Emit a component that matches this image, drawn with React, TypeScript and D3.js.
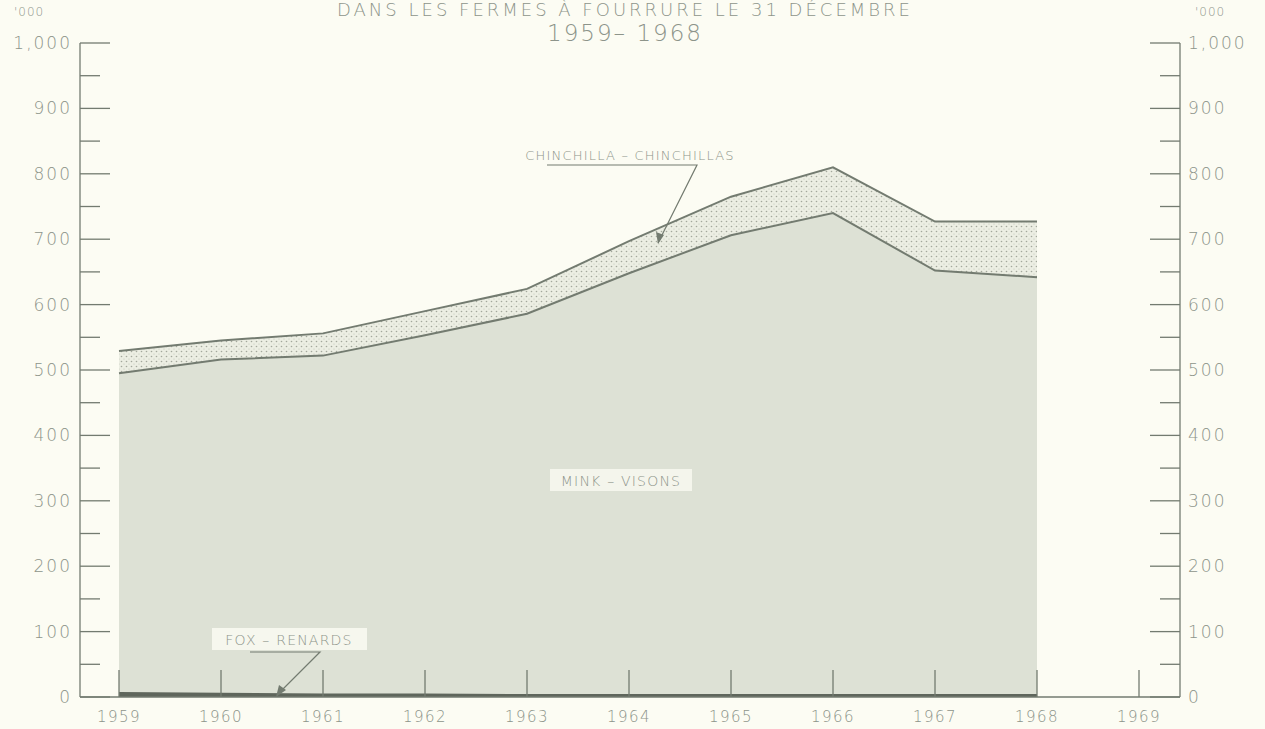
import React, { useEffect, useRef } from 'react'
import * as d3 from 'd3'

const years = [1959, 1960, 1961, 1962, 1963, 1964, 1965, 1966, 1967, 1968]
const fox = [6, 5, 4, 4, 3, 3, 3, 3, 3, 3]
const mink = [489, 511, 518, 549, 583, 645, 703, 737, 649, 639]
const chinchilla = [34, 29, 34, 37, 38, 49, 59, 70, 75, 85]
const yTicks = [0, 100, 200, 300, 400, 500, 600, 700, 800, 900, 1000]
const xTicks = [1959, 1960, 1961, 1962, 1963, 1964, 1965, 1966, 1967, 1968, 1969]

const W = 1265, H = 729
const BG = '#fcfcf3'
const INK = '#737b70'
const TXT = '#8d948a'
const FONT = '"DejaVu Sans", "Noto Sans", sans-serif'

export default function App() {
  const ref = useRef<SVGSVGElement>(null)

  useEffect(() => {
    const svg = d3.select(ref.current)
    svg.selectAll('*').remove()

    const x = d3.scaleLinear().domain([1959, 1969]).range([119, 1139])
    const y = d3.scaleLinear().domain([0, 1000]).range([697, 43])
    const xl = 80, xr = 1180

    const rows = years.map((yr, i) => ({ year: yr, fox: fox[i], mink: mink[i], chinchilla: chinchilla[i] }))
    const stack = d3.stack<any>().keys(['fox', 'mink', 'chinchilla'])(rows)

    const defs = svg.append('defs')
    const pat = defs.append('pattern')
      .attr('id', 'dots').attr('width', 5).attr('height', 5)
      .attr('patternUnits', 'userSpaceOnUse')
    pat.append('rect').attr('width', 5).attr('height', 5).attr('fill', '#eceee3')
    pat.append('circle').attr('cx', 1.5).attr('cy', 1.5).attr('r', 0.8).attr('fill', '#a3a89c')
    pat.append('circle').attr('cx', 4).attr('cy', 4).attr('r', 0.6).attr('fill', '#bfc3b7')

    svg.append('rect').attr('width', W).attr('height', H).attr('fill', BG)

    const area = d3.area<any>()
      .x(d => x(d.data.year))
      .y0(d => y(d[0]))
      .y1(d => y(d[1]))

    const fills = ['#5f665c', '#dde1d5', 'url(#dots)']
    svg.selectAll('path.layer')
      .data(stack)
      .enter()
      .append('path')
      .attr('class', 'layer')
      .attr('d', area)
      .attr('fill', (d, i) => fills[i])

    // boundary lines
    const line = d3.line<any>().x(d => x(d.data.year)).y(d => y(d[1]))
    stack.forEach((s, i) => {
      svg.append('path')
        .attr('d', line(s))
        .attr('fill', 'none')
        .attr('stroke', i === 0 ? '#5f665c' : INK)
        .attr('stroke-width', i === 0 ? 2 : 2)
    })

    // axes frame
    const g = svg.append('g').attr('stroke', INK).attr('stroke-width', 1.3)
    g.append('line').attr('x1', xl).attr('x2', xr).attr('y1', y(0)).attr('y2', y(0))
    g.append('line').attr('x1', xl).attr('x2', xl).attr('y1', y(0)).attr('y2', y(1000))
    g.append('line').attr('x1', xr).attr('x2', xr).attr('y1', y(0)).attr('y2', y(1000))

    const minor = d3.range(50, 1000, 100)
    yTicks.forEach(v => {
      g.append('line').attr('x1', xl).attr('x2', xl + 30).attr('y1', y(v)).attr('y2', y(v))
      g.append('line').attr('x1', xr).attr('x2', xr - 30).attr('y1', y(v)).attr('y2', y(v))
    })
    minor.forEach(v => {
      g.append('line').attr('x1', xl).attr('x2', xl + 20).attr('y1', y(v)).attr('y2', y(v))
      g.append('line').attr('x1', xr).attr('x2', xr - 20).attr('y1', y(v)).attr('y2', y(v))
    })
    xTicks.forEach(v => {
      g.append('line').attr('x1', x(v)).attr('x2', x(v)).attr('y1', y(0)).attr('y2', y(0) - 27)
    })

    // label backgrounds + arrows (under the texts)
    svg.append('rect').attr('x', 550).attr('y', 469).attr('width', 142).attr('height', 22).attr('fill', '#f4f5ec')
    svg.append('rect').attr('x', 212).attr('y', 628).attr('width', 155).attr('height', 22).attr('fill', '#f6f7ee')

    svg.append('path').attr('d', 'M547,165 L697,165 L658,243')
      .attr('fill', 'none').attr('stroke', INK).attr('stroke-width', 1.2)
    svg.append('path').attr('d', 'M658,244 L656,232 L664,235 Z').attr('fill', INK)
    svg.append('path').attr('d', 'M250,652 L320,652 L277,695')
      .attr('fill', 'none').attr('stroke', INK).attr('stroke-width', 1.2)
    svg.append('path').attr('d', 'M276,697 L279,685 L286,690 Z').attr('fill', INK)

    const fmt = (v: number) => v === 1000 ? '1,000' : String(v)
    const t = svg.append('g').attr('fill', TXT).attr('font-family', FONT).attr('font-weight', 200)

    yTicks.forEach(v => {
      t.append('text').attr('x', xl - 8).attr('y', y(v) + 6)
        .attr('text-anchor', 'end').attr('font-size', 17).attr('letter-spacing', 2)
        .text(fmt(v))
      t.append('text').attr('x', xr + 8).attr('y', y(v) + 6)
        .attr('font-size', 17).attr('letter-spacing', 2)
        .text(fmt(v))
    })
    xTicks.forEach(v => {
      t.append('text').attr('x', x(v)).attr('y', 722)
        .attr('text-anchor', 'middle').attr('font-size', 15).attr('letter-spacing', 1.5)
        .text(v)
    })
    t.append('text').attr('x', 14).attr('y', 16).attr('font-size', 12).attr('letter-spacing', 1).text("'000")
    t.append('text').attr('x', 1195).attr('y', 16).attr('font-size', 12).attr('letter-spacing', 1).text("'000")

    // title
    t.append('text').attr('x', 625).attr('y', 16).attr('text-anchor', 'middle')
      .attr('font-size', 18).attr('letter-spacing', 3)
      .text('DANS LES FERMES À FOURRURE LE 31 DÉCEMBRE')
    t.append('text').attr('x', 625).attr('y', 41).attr('text-anchor', 'middle')
      .attr('font-size', 23).attr('letter-spacing', 2)
      .text('1959– 1968')

    // series labels
    t.append('text').attr('x', 630).attr('y', 160).attr('text-anchor', 'middle')
      .attr('font-size', 13).attr('letter-spacing', 1.2)
      .text('CHINCHILLA – CHINCHILLAS')
    t.append('text').attr('x', 621).attr('y', 486).attr('text-anchor', 'middle')
      .attr('font-size', 14).attr('letter-spacing', 1.2)
      .text('MINK – VISONS')
    t.append('text').attr('x', 289).attr('y', 645).attr('text-anchor', 'middle')
      .attr('font-size', 14).attr('letter-spacing', 1.2)
      .text('FOX – RENARDS')
  }, [])

  return (
    <svg ref={ref} width={W} height={H}
      style={{ position: 'absolute', left: 0, top: 0, display: 'block' }} />
  )
}
